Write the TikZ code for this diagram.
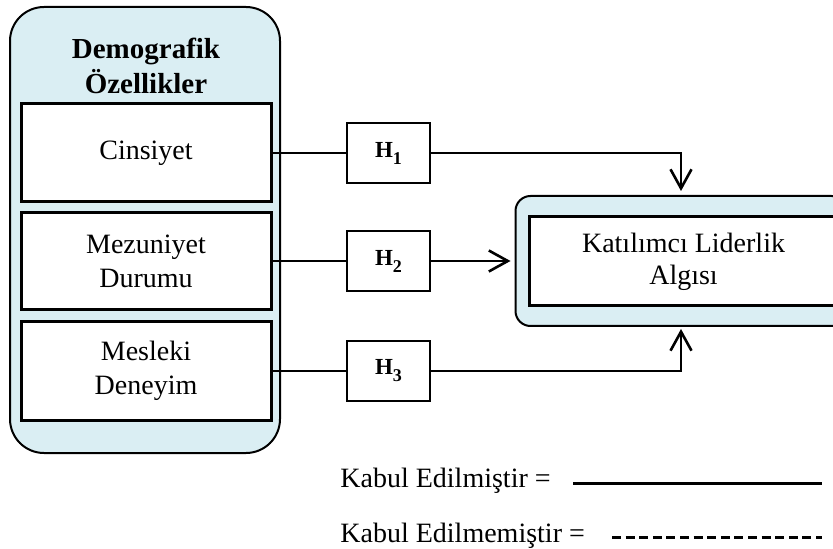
\documentclass[tikz,border=0pt]{standalone}
\usepackage{fontspec}
\setmainfont{Liberation Serif}
\usetikzlibrary{arrows.meta,positioning}
\definecolor{acikmavi}{HTML}{DAEEF3}
\newcommand{\hipo}[1]{H\raisebox{-3.5pt}{\fontsize{9pt}{9pt}\selectfont#1}}

\begin{document}
\begin{tikzpicture}[line join=miter,x=0.5pt,y=-0.5pt,
		yazi/.style={font=\fontsize{14pt}{17pt}\selectfont,align=center},
		kutu/.style={yazi,draw,line width=1.5pt,fill=white,inner sep=0pt},
		hkutu/.style={draw,line width=0.9pt,fill=white,minimum width=41.5pt,minimum height=30pt,inner sep=0pt,font=\fontsize{11.5pt}{14pt}\selectfont\bfseries},
		kap/.style={draw,line width=1pt,fill=acikmavi,inner sep=0pt},
		bag/.style={line width=1.3pt},
		ok/.style={bag,-{Straight Barb[length=9.5pt,width=10.5pt,line width=1.3pt]}}]
				\clip (0,0) rectangle (833,549);
				\node[kap,rounded corners=17pt,minimum width=135pt,minimum height=223pt] (demo) at (145,230) {};
				\node[yazi,font=\fontsize{14.5pt}{17.5pt}\selectfont\bfseries] (baslik) at (146,66) {Demografik\\Özellikler};
				\node[kutu,minimum width=125pt,minimum height=49pt] (cins) at (146,153) {Cinsiyet};
				\node[kutu,minimum width=125pt,minimum height=48.5pt] (mez) at (146,261) {Mezuniyet\\Durumu};
				\node[kutu,minimum width=125pt,minimum height=49.5pt] (mes) at (146,371) {Mesleki\\Deneyim};
				\node[kap,rounded corners=7.5pt,minimum width=165.5pt,minimum height=65pt] (algi) at (681,261) {};
				\node[kutu,minimum width=154.5pt,minimum height=44.5pt,font=\fontsize{14pt}{16pt}\selectfont] (kla) at (683.5,261.5) {Katılımcı Liderlik\\Algısı};
				\node[hkutu] (h1) at (388.5,153) {\hipo{1}};
				\node[hkutu] (h2) at (388.5,261) {\hipo{2}};
				\node[hkutu] (h3) at (388.5,371) {\hipo{3}};
				\draw [bag] (cins.east)-- (h1.west);
				\draw [ok] (h1.east) -| ([yshift=2pt]algi.north);
				\draw [bag] (mez.east)-- (h2.west);
				\draw [ok] (h2.east)-- ([xshift=-2pt]algi.west);
				\draw [bag] (mes.east)-- (h3.west);
				\draw [ok] (h3.east) -| ([yshift=-1pt]algi.south);
				\node[yazi,inner sep=0pt,anchor=base west] (kabul) at (340,487) {Kabul Edilmiştir =};
				\node[yazi,inner sep=0pt,anchor=base west] (red) at (340,542) {Kabul Edilmemiştir =};
				\coordinate (k1) at (573,483);
				\coordinate (k2) at (822,483);
				\coordinate (r1) at (612,537);
				\coordinate (r2) at (822,537);
				\draw [line width=1.5pt] (k1)-- (k2);
				\draw [line width=1.5pt,dash pattern=on 4.5pt off 2.3pt] (r1)-- (r2);
			\end{tikzpicture}
\end{document}
